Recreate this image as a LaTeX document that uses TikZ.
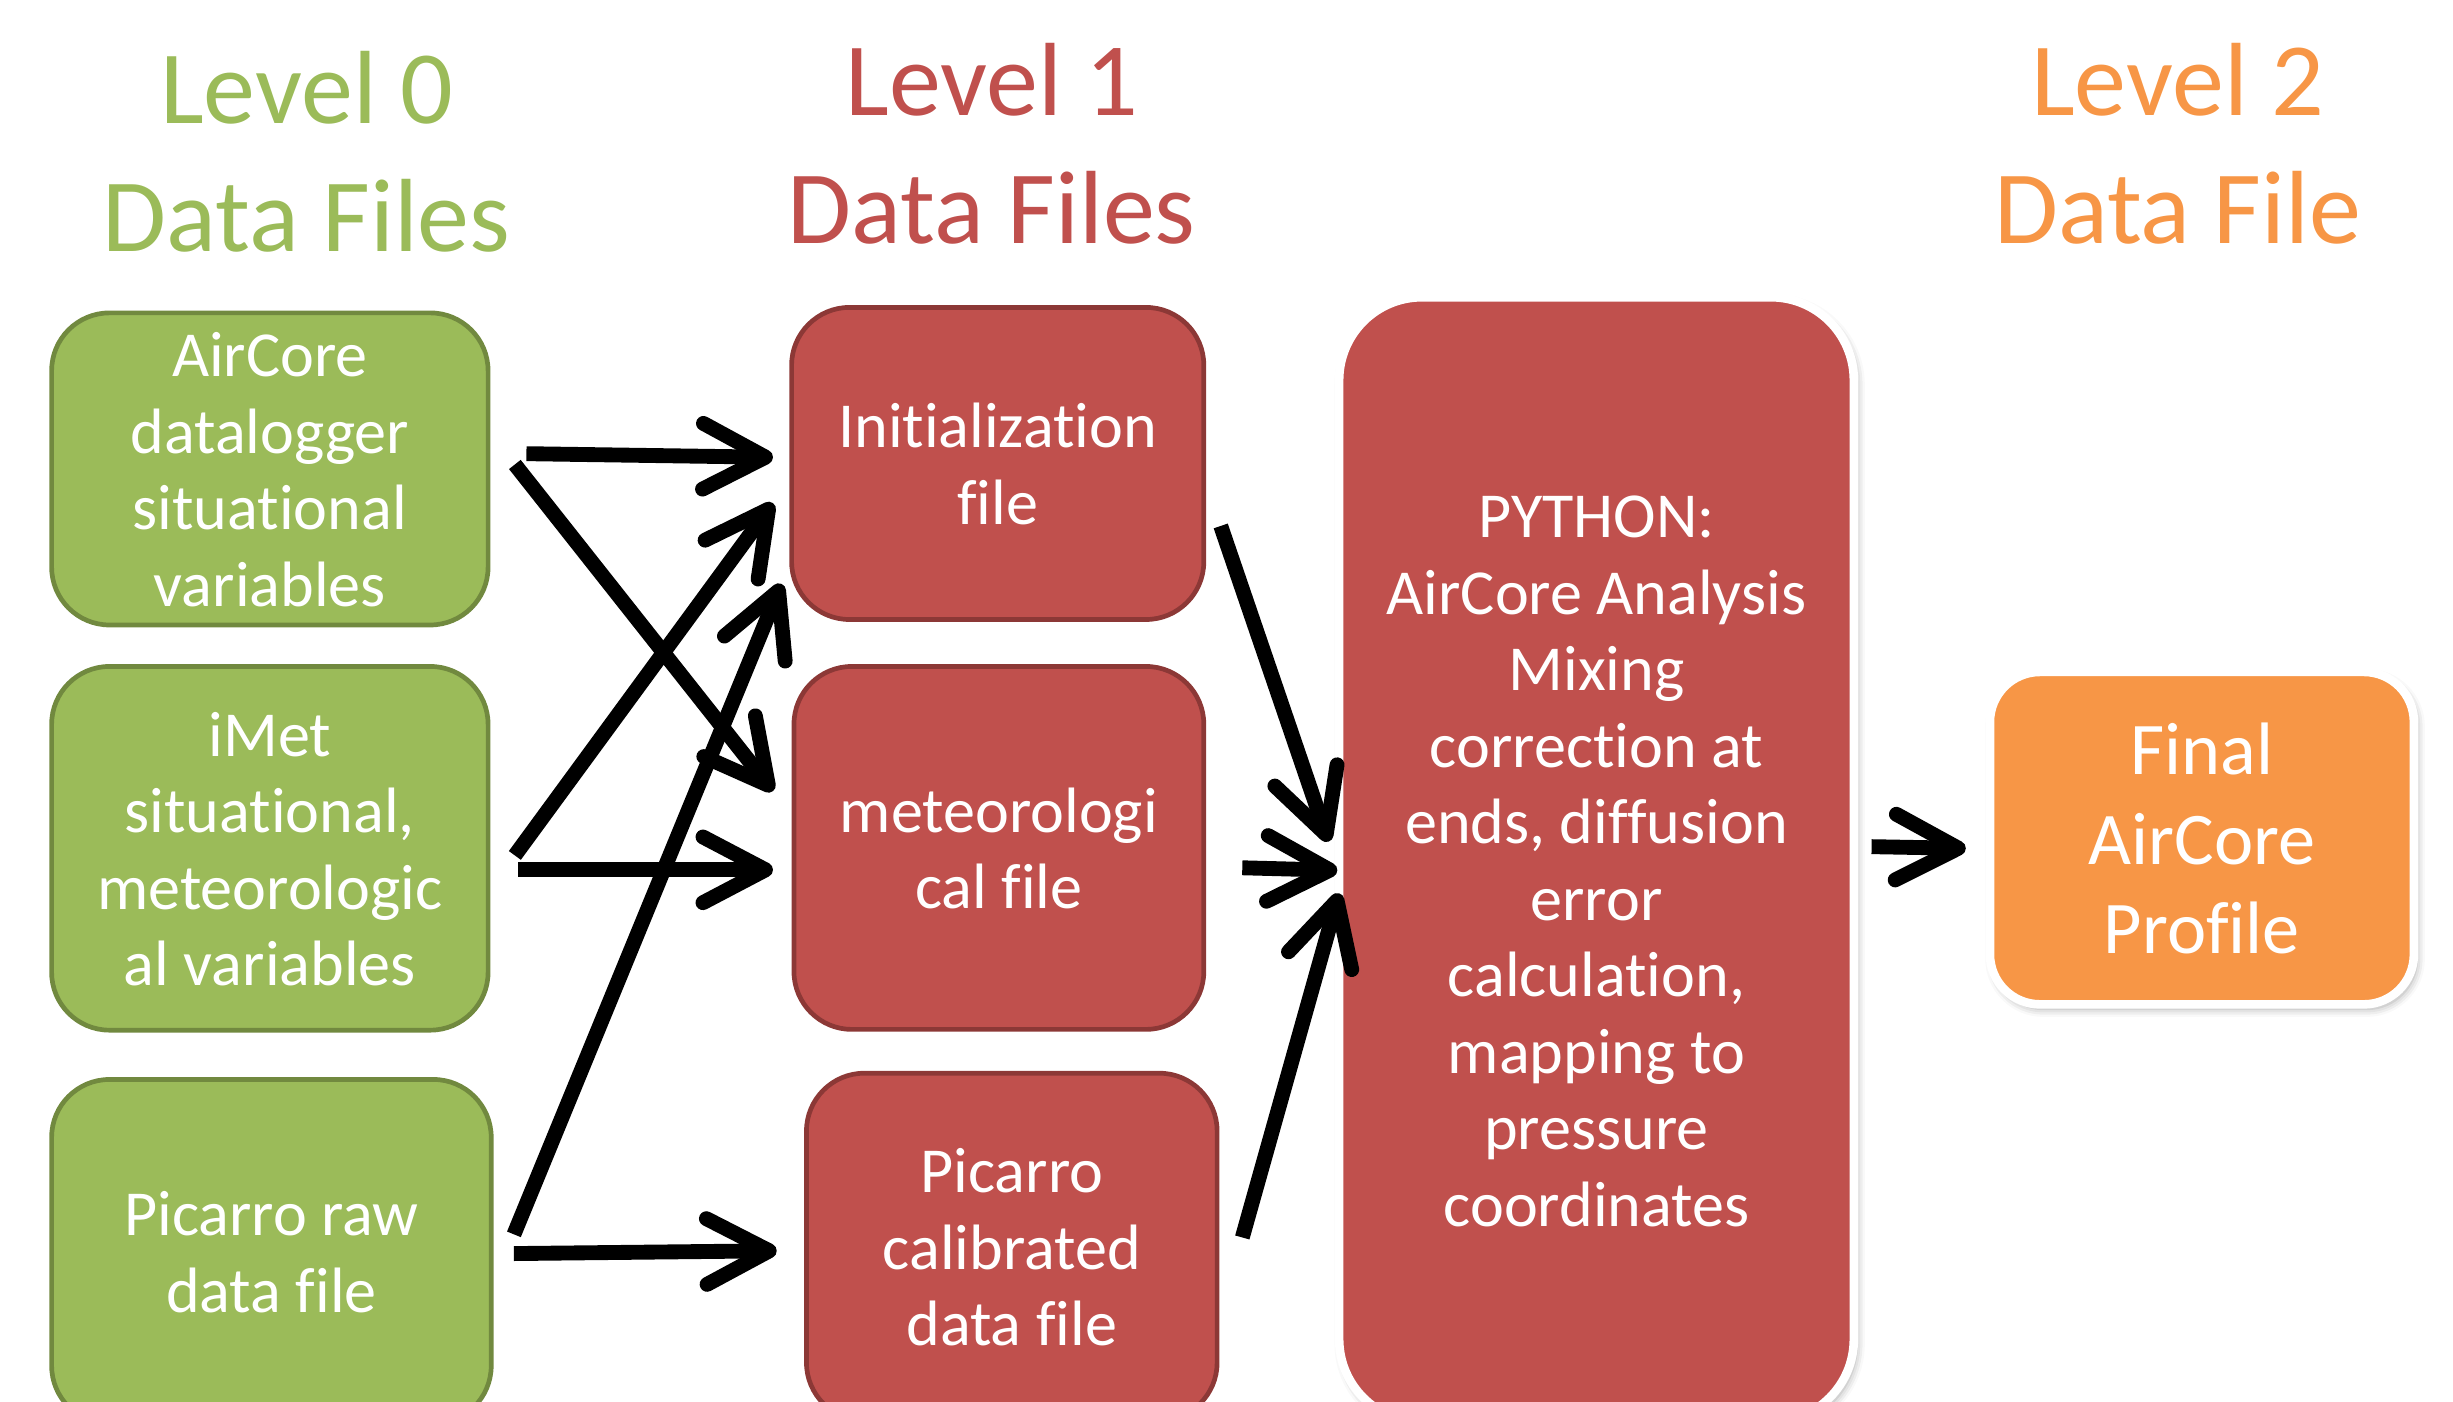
\documentclass[tikz,border=0pt]{standalone}
\usepackage{fontspec}
\setmainfont{Carlito}[Ligatures={NoCommon}]
\usetikzlibrary{arrows.meta,calc,shadows.blur}
\definecolor{lvgreen}{HTML}{9BBB59}
\definecolor{lvgreendark}{HTML}{71893F}
\definecolor{lvred}{HTML}{C0504D}
\definecolor{lvreddark}{HTML}{8C3836}
\definecolor{lvorange}{HTML}{F79646}
\newcommand{\vs}{\vrule height 0.9em depth 0.3em width 0pt}
\newcommand{\bs}{\vrule height 0.94em depth 0.24em width 0pt}
\begin{document}
\begin{tikzpicture}[x=1pt,y=-1pt,
  hdr/.style={align=center, inner sep=0pt, font=\fontsize{66.5}{81.8}\selectfont},
  boxbase/.style={text=white, align=center, inner sep=0pt, font=\fontsize{41}{48.9}\selectfont},
  gbox/.style={boxbase, draw=lvgreendark, fill=lvgreen, line width=3pt, rounded corners=37pt},
  rbox/.style={boxbase, draw=lvreddark, fill=lvred, line width=3pt, rounded corners=37pt},
  pbox/.style={boxbase, draw=white, fill=lvred, line width=5.5pt, rounded corners=53pt,
     blur shadow={shadow xshift=2pt, shadow yshift=-3pt, shadow blur radius=5pt, shadow opacity=35}},
  obox/.style={boxbase, draw=white, fill=lvorange, line width=5.5pt, rounded corners=32pt,
     font=\fontsize{47.5}{57.3}\selectfont,
     blur shadow={shadow xshift=2pt, shadow yshift=-3pt, shadow blur radius=5pt, shadow opacity=35}},
  arr/.style={line width=9.5pt, -{Straight Barb[length=40pt,width=42pt,round]}}
]
\useasboundingbox (0,0) rectangle (1568,896);
\clip (0,0) rectangle (1568,896);

% headers
\node[hdr, text=lvgreen] (h0) at (196,100.2) {\vs Level 0\\\vs Data Files};
\node[hdr, text=lvred] (h1) at (634,94.9) {\vs Level 1\\\vs Data Files};
\node[hdr, text=lvorange] (h2) at (1392,94.9) {\vs Level 2\\\vs Data File};

% level 0
\node[gbox, minimum width=279pt, minimum height=199.5pt] (G1) at (172.5,299.75)
  {\bs AirCore\\\bs datalogger\\\bs situational\\\bs variables};
\node[gbox, minimum width=279pt, minimum height=232.5pt] (G2) at (172.5,542.25)
  {\bs iMet\\\bs situational,\\\bs meteorologic\\\bs al variables};
\node[gbox, minimum width=281pt, minimum height=220pt] (G3) at (173.5,800)
  {\bs Picarro raw\\\bs data file};

% level 1
\node[rbox, minimum width=263.5pt, minimum height=199.5pt] (R1) at (637.75,296.25)
  {\bs Initialization\\\bs file};
\node[rbox, minimum width=262pt, minimum height=232pt] (R2) at (638.5,542)
  {\bs meteorologi\\\bs cal file};
\node[rbox, minimum width=262.5pt, minimum height=222pt] (R3) at (646.75,797)
  {\bs Picarro\\\bs calibrated\\\bs data file};

% python
\node[pbox, minimum width=329pt, minimum height=719pt] (Py) at (1020.5,549.5)
  {\bs PYTHON:\\\bs AirCore Analysis\\\bs Mixing\\\bs correction at\\\bs ends, diffusion\\\bs error\\\bs calculation,\\\bs mapping to\\\bs pressure\\\bs coordinates};

% level 2
\node[obox, minimum width=271pt, minimum height=212.5pt] (Or) at (1407.5,535.75)
  {\bs Final\\\bs AirCore\\\bs Profile};

% connectors
\draw[arr] ($(G1.east)+(23,-9.75)$) -- ($(R1.west)+(-10.4,-3.95)$);
\draw[arr] ($(G1.east)+(15.6,-2.85)$) -- ($(R2.west)+(-11.9,-36.3)$);
\draw[arr] ($(G2.east)+(15.6,4.55)$) -- ($(R1.west)+(-10.4,25.35)$);
\draw[arr] ($(G2.east)+(17.7,13.75)$) -- ($(R2.west)+(-11.9,14)$);
\draw[arr] ($(G3.east)+(13,-11)$) -- ($(R1.west)+(-5,76.95)$);
\draw[arr] ($(G3.east)+(13,1.3)$) -- ($(R3.west)+(-17.5,2.5)$);
\draw[arr] ($(R1.east)+(9.3,39.95)$) -- ($(Py.west)+(-4,-11.5)$);
\draw[arr] ($(R2.east)+(23.1,12.7)$) -- ($(Py.west)+(1.6,6.8)$);
\draw[arr] ($(R3.east)+(14.6,-6)$) -- ($(Py.west)+(2.7,21.5)$);
\draw[arr] ($(Py.east)+(8.6,-8.3)$) -- ($(Or.west)+(-12.7,6.55)$);
\end{tikzpicture}
\end{document}
